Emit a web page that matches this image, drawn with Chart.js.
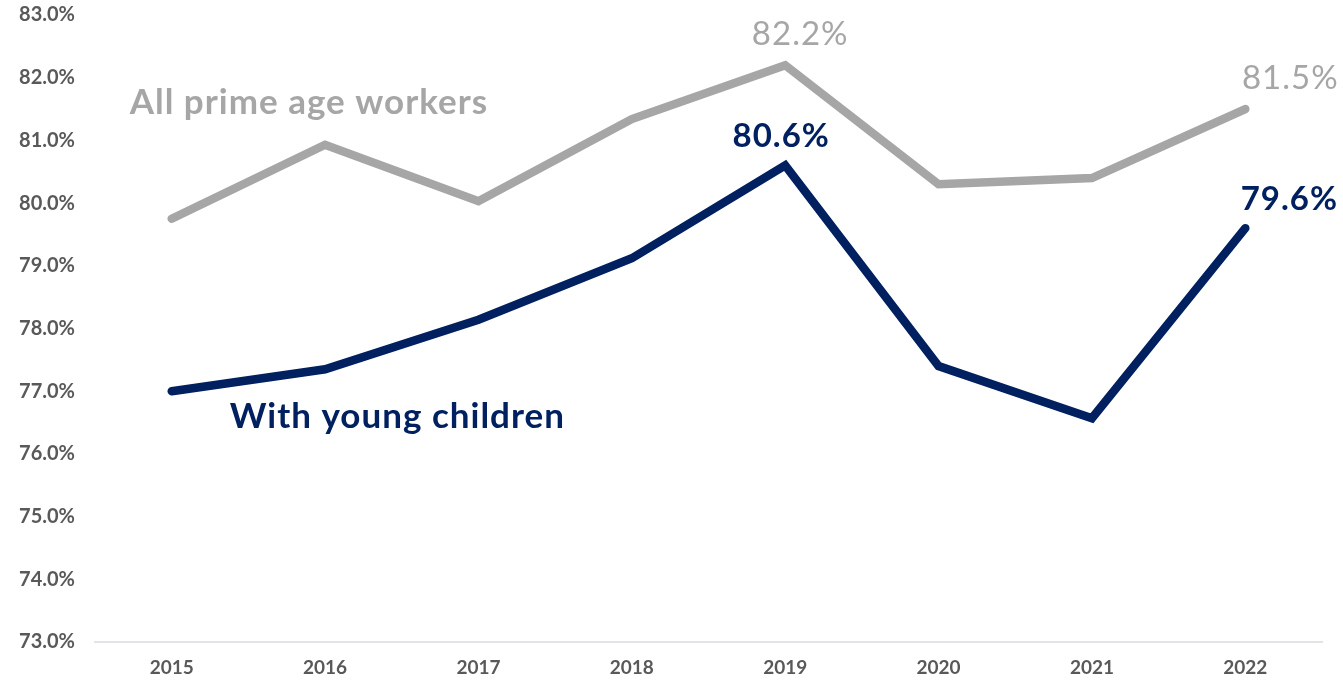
<!DOCTYPE html>
<html>
<head>
<meta charset="utf-8">
<title>Employment rate, prime age workers</title>
<script src="https://cdn.jsdelivr.net/npm/chart.js@4/dist/chart.umd.min.js"></script>
<style>
  html, body { margin: 0; padding: 0; background: #ffffff; }
  #wrap { width: 1343px; height: 681px; position: relative; }
</style>
</head>
<body>
<div id="wrap"><canvas id="chart"></canvas></div>
<script>
// Categories and series values (percent)
const years = ['2015', '2016', '2017', '2018', '2019', '2020', '2021', '2022'];
const allPrimeAge = [79.75, 80.93, 80.03, 81.34, 82.2, 80.30, 80.40, 81.5];
const youngChildren = [77.0, 77.35, 78.14, 79.12, 80.6, 77.40, 76.57, 79.6];
const yTicks = [73, 74, 75, 76, 77, 78, 79, 80, 81, 82, 83];

// Points that carry a value label, and the series name labels
const labelledIdx = [4, 7];
const seriesNames = ['All prime age workers', 'With young children'];

const GRAY = '#A6A6A6';
const NAVY = '#002060';
const FONT = "Lato, 'Open Sans', sans-serif";

const labelPlugin = {
  id: 'labels',
  afterDatasetsDraw(chart) {
    const { ctx, scales } = chart;
    const x = scales.x, y = scales.y;
    ctx.save();
    ctx.textAlign = 'center';
    ctx.textBaseline = 'middle';
    ctx.letterSpacing = '1px';

    // value labels above selected points
    const specs = [
      { data: allPrimeAge, color: GRAY, weight: 'normal', dx: [15, 45], dy: -31 },
      { data: youngChildren, color: NAVY, weight: 'bold', dx: [-4, 44], dy: -29 }
    ];
    specs.forEach(s => {
      ctx.fillStyle = s.color;
      ctx.font = s.weight + ' 33px ' + FONT;
      labelledIdx.forEach((i, k) => {
        const px = x.getPixelForValue(i);
        const py = y.getPixelForValue(s.data[i]);
        ctx.fillText(s.data[i].toFixed(1) + '%', px + s.dx[k], py + s.dy);
      });
    });

    // series names
    ctx.textAlign = 'left';
    ctx.font = 'bold 35px ' + FONT;
    ctx.fillStyle = GRAY;
    ctx.fillText(seriesNames[0], x.getPixelForValue(0) - 42, y.getPixelForValue(81.6));
    ctx.fillStyle = NAVY;
    ctx.fillText(seriesNames[1], x.getPixelForValue(0) + 58, y.getPixelForValue(76.6));
    ctx.restore();
  }
};

new Chart(document.getElementById('chart'), {
  type: 'line',
  data: {
    labels: years,
    datasets: [
      {
        label: seriesNames[0],
        data: allPrimeAge,
        borderColor: GRAY,
        borderWidth: 8.5,
        borderCapStyle: 'round',
        borderJoinStyle: 'miter',
        pointRadius: 0,
        tension: 0
      },
      {
        label: seriesNames[1],
        data: youngChildren,
        borderColor: NAVY,
        borderWidth: 8.5,
        borderCapStyle: 'round',
        borderJoinStyle: 'miter',
        pointRadius: 0,
        tension: 0
      }
    ]
  },
  options: {
    responsive: true,
    maintainAspectRatio: false,
    animation: false,
    layout: { padding: { top: 15, right: 21, left: 0, bottom: 0 } },
    plugins: {
      legend: { display: false },
      tooltip: { enabled: false }
    },
    scales: {
      x: {
        offset: true,
        grid: { display: false, drawTicks: false },
        border: { display: true, color: '#E3E3E8', width: 2 },
        ticks: {
          color: '#595959',
          font: { family: FONT, size: 19, weight: 'bold' },
          padding: 14
        },
        afterFit(scale) { scale.height = 39; }
      },
      y: {
        min: 73,
        max: 83,
        grid: { display: false, drawTicks: false },
        border: { display: false },
        afterBuildTicks(scale) { scale.ticks = yTicks.map(v => ({ value: v })); },
        ticks: {
          color: '#595959',
          font: { family: FONT, size: 20, weight: 'bold' },
          padding: 20,
          callback: v => v.toFixed(1) + '%'
        },
        afterFit(scale) {
          scale.width = 95;
          scale.paddingTop = 0;
          scale.paddingBottom = 0;
        }
      }
    }
  },
  plugins: [labelPlugin]
});
</script>
</body>
</html>
